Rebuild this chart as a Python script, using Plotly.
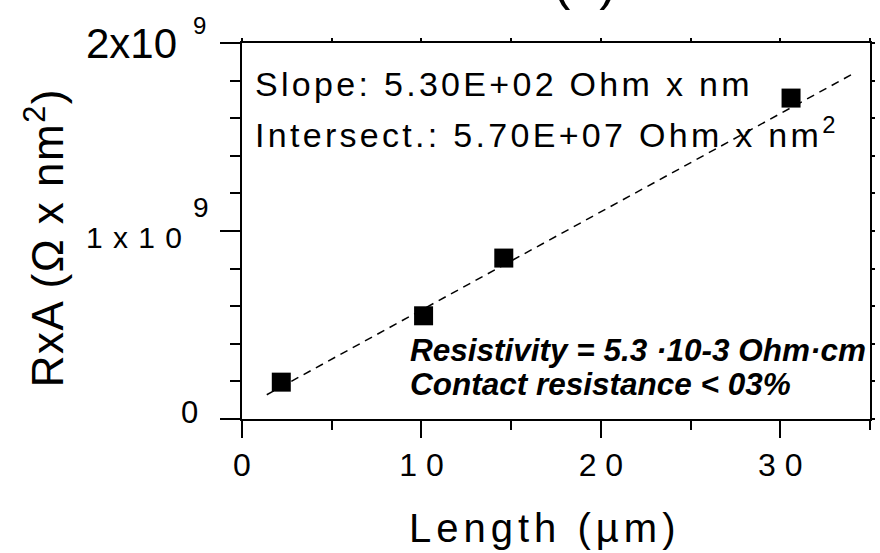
import plotly.graph_objects as go

# Measured samples: channel length (µm) vs R x A (Ohm nm^2)
length_um = [2.19, 10.12, 14.59, 30.6]
rxa = [0.196e9, 0.549e9, 0.856e9, 1.707e9]

# Linear fit of R x A vs length
fit_intercept = 5.70e7
fit_slope = 5.225e7          # per µm
fit_x = [1.38, 34.2]
fit_y = [fit_intercept + fit_slope * x for x in fit_x]

x_tickvals = [0, 10, 20, 30]
x_ticktext = ["0", "1 0", "2 0", "3 0"]
x_range = [0, 35]
y_range = [0, 2e9]

FONT = "Arial, Liberation Sans, sans-serif"
W, H = 880, 553
L, R, T, B = 241.7, 874.0, 43.3, 419.3


def px(x):
    return (x - L) / (R - L)


def py(y):
    return (B - y) / (B - T)


fig = go.Figure()
fig.add_trace(go.Scatter(
    x=fit_x, y=fit_y, mode="lines",
    line=dict(color="black", width=1.5, dash="8px,6px"),
    showlegend=False, hoverinfo="skip",
))
fig.add_trace(go.Scatter(
    x=length_um, y=rxa, mode="markers",
    marker=dict(symbol="square", size=19, color="black", line=dict(width=0)),
    showlegend=False,
))
# companion trace for the top/right tick axes
fig.add_trace(go.Scatter(
    x=length_um, y=rxa, mode="markers", xaxis="x2", yaxis="y2",
    marker=dict(opacity=0), showlegend=False, hoverinfo="skip",
))

axis_common = dict(showgrid=False, zeroline=False, linecolor="black", linewidth=2,
                   tickcolor="black", tickwidth=2, ticks="outside")

fig.update_layout(
    width=W, height=H,
    margin=dict(l=L, r=W - R, t=T, b=H - B, pad=0),
    paper_bgcolor="white", plot_bgcolor="white",
    font=dict(family=FONT, color="black"),
    xaxis=dict(range=x_range, tickmode="array", tickvals=x_tickvals, ticktext=x_ticktext,
               ticklen=17, showline=True, mirror=True,
               tickfont=dict(size=32, family=FONT, color="black"),
               minor=dict(dtick=5, ticklen=9, tickwidth=2, tickcolor="black", ticks="outside"),
               **axis_common),
    yaxis=dict(range=y_range, dtick=1e9, ticklen=20, showline=True, mirror=True,
               showticklabels=False,
               minor=dict(dtick=2e8, ticklen=10, tickwidth=2, tickcolor="black", ticks="outside"),
               **axis_common),
    xaxis2=dict(range=x_range, dtick=5, overlaying="x", side="top", anchor="y2",
                showticklabels=False, showline=False, showgrid=False, zeroline=False,
                ticks="outside", ticklen=4, tickwidth=1.5, tickcolor="black"),
    yaxis2=dict(range=y_range, dtick=2e8, overlaying="y", side="right", anchor="x2",
                showticklabels=False, showline=False, showgrid=False, zeroline=False,
                ticks="outside", ticklen=4, tickwidth=1.5, tickcolor="black"),
)


def note(text, x, y, size, xanchor="left", yanchor="middle", angle=0, **kw):
    fig.add_annotation(text=text, x=x, y=y, xref=kw.pop("xref", "paper"),
                       yref=kw.pop("yref", "paper"), xanchor=xanchor, yanchor=yanchor,
                       textangle=angle, showarrow=False,
                       font=dict(size=size, family=FONT, color="black"), **kw)


# y tick labels in the exponent style
note("2x10", 0, 2e9, 42, xanchor="right", yref="y", xshift=-63)
note("9", 0, 2e9, 24, xanchor="left", yref="y", xshift=-51, yshift=17.6)
note('<span style="letter-spacing:1px">1 x 1 0</span>', 0, 1e9, 30,
     xanchor="right", yref="y", xshift=-57, yshift=-6)
note("9", 0, 1e9, 28, xanchor="left", yref="y", xshift=-51, yshift=24)
note("0", 0, 0, 31, xanchor="right", yref="y", xshift=-42, yshift=7)

# axis titles
note('<span style="letter-spacing:5px">Length (µm)</span>', px(546), py(528), 40,
     xanchor="center")
note('<span style="letter-spacing:1.5px">RxA (Ω x nm<sup>2</sup>)</span>', px(43), py(238), 44,
     xanchor="center", angle=-90)

# panel label
note("(a)", px(587), py(-19), 52, xanchor="center")

# fit summary
note('<span style="letter-spacing:3.3px">Slope: 5.30E+02 Ohm x nm</span>',
     px(253), py(84), 34)
note('<span style="letter-spacing:3.3px">Intersect.: 5.70E+07 Ohm x nm<sup>2</sup></span>',
     px(253), py(132.5), 34)
note("<b><i>Resistivity = 5.3 ·10-3 Ohm·cm</i></b>", px(409), py(350.6), 31.5)
note("<b><i>Contact resistance &lt; 03%</i></b>", px(409), py(383.9), 31.5)

fig.write_html("out.html")
